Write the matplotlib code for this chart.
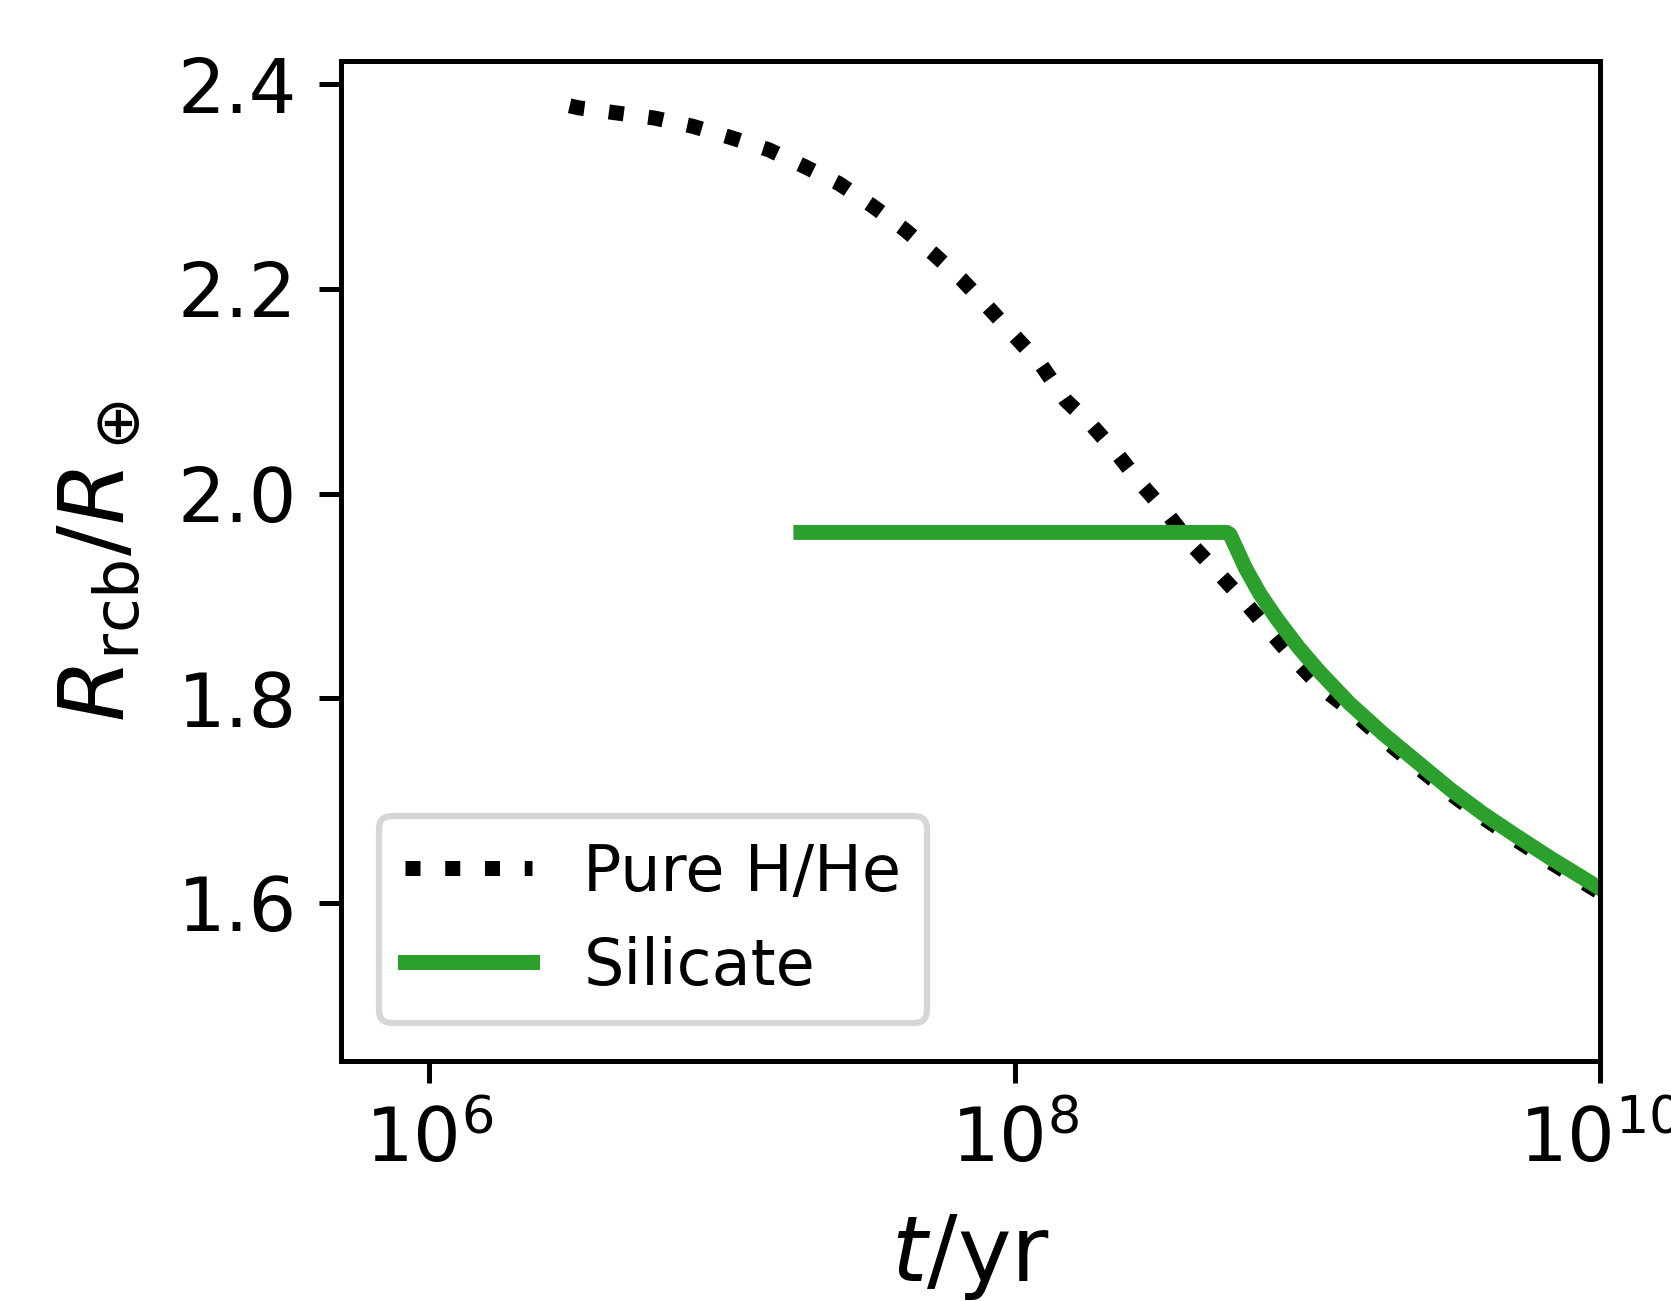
import numpy as np
import matplotlib
matplotlib.use('Agg')
import matplotlib.pyplot as plt
from matplotlib.ticker import LogLocator, NullLocator

# ---- data (log10 of age in yr, radius in Earth radii) ----
hhe_logt = [6.48, 6.51, 6.64, 6.77, 6.90, 7.03, 7.16, 7.28, 7.40, 7.51, 7.62,
            7.72, 7.82, 7.91, 8.00, 8.09, 8.175, 8.26, 8.35, 8.43, 8.52, 8.605,
            8.694, 8.784, 8.870, 8.958, 9.049, 9.144, 9.260, 9.374, 9.488,
            9.601, 9.716, 9.829, 10.0]
hhe_r = [2.379, 2.377, 2.372, 2.367, 2.359, 2.348, 2.336, 2.320, 2.303, 2.282,
         2.259, 2.235, 2.209, 2.182, 2.154, 2.126, 2.091, 2.068, 2.039, 2.010,
         1.981, 1.950, 1.923, 1.895, 1.866, 1.837, 1.810, 1.789, 1.760, 1.733,
         1.707, 1.683, 1.661, 1.640, 1.610]

sil_logt = [7.27, 8.725, 8.736, 8.789, 8.838, 8.895, 8.969, 9.041, 9.144,
            9.260, 9.374, 9.488, 9.601, 9.716, 9.829, 10.0]
sil_r = [1.962, 1.962, 1.960, 1.927, 1.902, 1.878, 1.850, 1.826, 1.795,
         1.765, 1.738, 1.711, 1.687, 1.665, 1.644, 1.614]

labels = ['Pure H/He', 'Silicate']

fig = plt.figure(figsize=(1671 / 450, 1301 / 450), dpi=450)
ax = fig.add_axes([0.2041, 0.1842, 0.7534, 0.7691])

ax.plot(10 ** np.array(hhe_logt), hhe_r, ls=':', color='black', lw=2.4, label=labels[0])
ax.plot(10 ** np.array(sil_logt), sil_r, ls='-', color='#2ca02c', lw=2.4, label=labels[1])

ax.set_xscale('log')
ax.set_xlim(5.0e5, 1e10)
ax.set_ylim(1.445, 2.423)
ax.xaxis.set_major_locator(LogLocator(base=100.0))
ax.xaxis.set_minor_locator(NullLocator())
ax.set_yticks([1.6, 1.8, 2.0, 2.2, 2.4])
ax.tick_params(labelsize=12)

ax.set_xlabel(r'$t/{\rm yr}$', fontsize=14.5, labelpad=5.5)
ax.set_ylabel(r'$R_{\rm rcb}/R_\oplus$', fontsize=14.5, labelpad=5.5)
ax.legend(loc='lower left', fontsize=10.2, borderaxespad=0.6)

fig.savefig('out.png', dpi=450)
